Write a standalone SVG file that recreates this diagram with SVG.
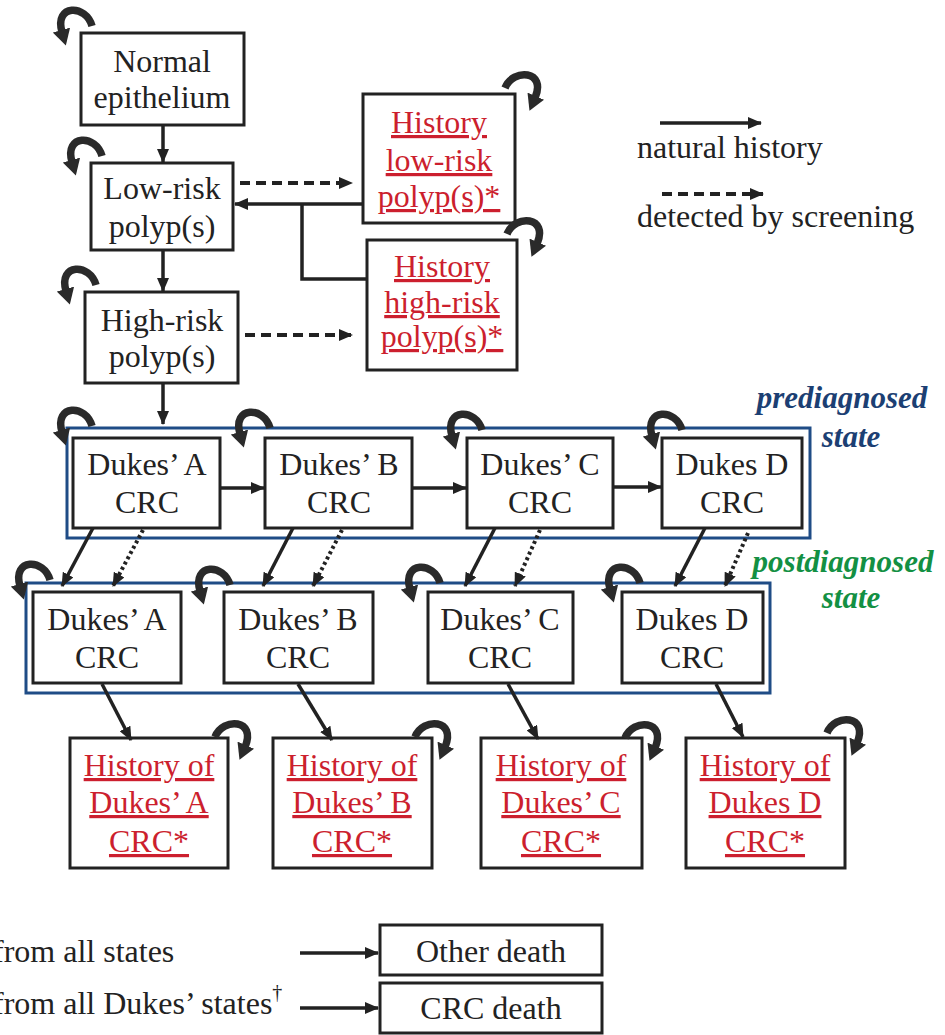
<svg xmlns="http://www.w3.org/2000/svg" width="945" height="1035" viewBox="0 0 945 1035">
<style>
  .box{fill:#fff;stroke:#222;stroke-width:3}
  .state{fill:none;stroke:#1f4c86;stroke-width:3}
  text{font-family:'Liberation Serif','Tinos','Times New Roman','DejaVu Serif',serif}
  .t{font-size:32px;fill:#222;text-anchor:middle}
  .r{fill:#cc1f2e;text-decoration:underline}
  .lg{font-size:32px;fill:#222}
  .lab{font-size:31px;font-weight:bold;font-style:italic;text-anchor:middle}
  .a{fill:none;stroke:#222;stroke-width:3.5;marker-end:url(#ah)}
  .dash{stroke-dasharray:10 6;stroke-width:4}
  .dot{stroke-dasharray:3 3;stroke-width:4}
  .ln{fill:none;stroke:#222;stroke-width:3.5}
  .loop{fill:none;stroke:#2a2a2a;stroke-width:7.5;marker-end:url(#lh)}
</style>
<defs>
  <marker id="ah" viewBox="0 0 14 12" refX="13" refY="6" markerWidth="14" markerHeight="12" markerUnits="userSpaceOnUse" orient="auto">
    <path d="M0,0 L14,6 L0,12 z" fill="#222"/>
  </marker>
  <marker id="lh" viewBox="0 0 16 18" refX="2" refY="9" markerWidth="16" markerHeight="18" markerUnits="userSpaceOnUse" orient="auto">
    <path d="M0,0 L16,9 L0,18 z" fill="#2a2a2a"/>
  </marker>
</defs>

<!-- state frames -->
<g id="prediagnosed-frame">
  <rect class="state" x="67" y="428" width="743" height="110"/>
  <text class="lab" x="842" y="408" fill="#1c3f73">prediagnosed</text>
  <text class="lab" x="851" y="447" fill="#1c3f73">state</text>
</g>
<g id="postdiagnosed-frame">
  <rect class="state" x="26" y="583" width="744" height="110"/>
  <text class="lab" x="843" y="572" fill="#139043">postdiagnosed</text>
  <text class="lab" x="851" y="608" fill="#139043">state</text>
</g>

<!-- nodes -->
<g id="normal">
  <rect class="box" x="81" y="33" width="163" height="92"/>
  <text class="t" x="162" y="72">Normal</text>
  <text class="t" x="162" y="108">epithelium</text>
</g>
<g id="lowrisk">
  <rect class="box" x="91" y="163" width="142" height="87"/>
  <text class="t" x="162" y="199">Low-risk</text>
  <text class="t" x="162" y="237">polyp(s)</text>
</g>
<g id="highrisk">
  <rect class="box" x="85" y="292" width="153" height="91"/>
  <text class="t" x="162" y="331">High-risk</text>
  <text class="t" x="162" y="367">polyp(s)</text>
</g>
<g id="hist-lowrisk">
  <rect class="box" x="363" y="94" width="152" height="129"/>
  <text class="t r" x="439" y="133">History</text>
  <text class="t r" x="439" y="171">low-risk</text>
  <text class="t r" x="439" y="207">polyp(s)*</text>
</g>
<g id="hist-highrisk">
  <rect class="box" x="367" y="240" width="150" height="130"/>
  <text class="t r" x="442" y="277">History</text>
  <text class="t r" x="442" y="313">high-risk</text>
  <text class="t r" x="442" y="347">polyp(s)*</text>
</g>

<g id="pre-a">
  <rect class="box" x="73" y="438" width="147" height="90"/>
  <text class="t" x="147" y="475">Dukes’ A</text>
  <text class="t" x="147" y="513">CRC</text>
</g>
<g id="pre-b">
  <rect class="box" x="265" y="438" width="147" height="90"/>
  <text class="t" x="339" y="475">Dukes’ B</text>
  <text class="t" x="339" y="513">CRC</text>
</g>
<g id="pre-c">
  <rect class="box" x="467" y="438" width="146" height="90"/>
  <text class="t" x="540" y="475">Dukes’ C</text>
  <text class="t" x="540" y="513">CRC</text>
</g>
<g id="pre-d">
  <rect class="box" x="662" y="438" width="140" height="90"/>
  <text class="t" x="732" y="475">Dukes D</text>
  <text class="t" x="732" y="513">CRC</text>
</g>

<g id="post-a">
  <rect class="box" x="33" y="592" width="148" height="91"/>
  <text class="t" x="107" y="630">Dukes’ A</text>
  <text class="t" x="107" y="668">CRC</text>
</g>
<g id="post-b">
  <rect class="box" x="224" y="592" width="149" height="91"/>
  <text class="t" x="298" y="630">Dukes’ B</text>
  <text class="t" x="298" y="668">CRC</text>
</g>
<g id="post-c">
  <rect class="box" x="428" y="592" width="145" height="91"/>
  <text class="t" x="500" y="630">Dukes’ C</text>
  <text class="t" x="500" y="668">CRC</text>
</g>
<g id="post-d">
  <rect class="box" x="622" y="592" width="141" height="91"/>
  <text class="t" x="692" y="630">Dukes D</text>
  <text class="t" x="692" y="668">CRC</text>
</g>

<g id="hist-a">
  <rect class="box" x="70" y="738" width="158" height="130"/>
  <text class="t r" x="149" y="776">History of</text>
  <text class="t r" x="149" y="813">Dukes’ A</text>
  <text class="t r" x="149" y="852">CRC*</text>
</g>
<g id="hist-b">
  <rect class="box" x="273" y="738" width="159" height="130"/>
  <text class="t r" x="352" y="776">History of</text>
  <text class="t r" x="352" y="813">Dukes’ B</text>
  <text class="t r" x="352" y="852">CRC*</text>
</g>
<g id="hist-c">
  <rect class="box" x="481" y="738" width="161" height="130"/>
  <text class="t r" x="561" y="776">History of</text>
  <text class="t r" x="561" y="813">Dukes’ C</text>
  <text class="t r" x="561" y="852">CRC*</text>
</g>
<g id="hist-d">
  <rect class="box" x="686" y="738" width="159" height="130"/>
  <text class="t r" x="765" y="776">History of</text>
  <text class="t r" x="765" y="813">Dukes D</text>
  <text class="t r" x="765" y="852">CRC*</text>
</g>

<g id="other-death">
  <rect class="box" x="380" y="925" width="222" height="50"/>
  <text class="t" x="491" y="962">Other death</text>
</g>
<g id="crc-death">
  <rect class="box" x="380" y="983" width="222" height="50"/>
  <text class="t" x="491" y="1019">CRC death</text>
</g>

<!-- legend -->
<g id="legend">
  <path class="a" d="M660,123 H761"/>
  <text class="lg" x="637" y="158">natural history</text>
  <path class="a dash" d="M662,194 H763"/>
  <text class="lg" x="637" y="227">detected by screening</text>
  <text class="lg" x="-7" y="962">from all states</text>
  <text class="lg" x="-7" y="1014">from all Dukes’ states<tspan font-size="20" dy="-15">†</tspan></text>
</g>

<!-- connectors -->
<g id="connectors">
  <path class="a" d="M163,125 V162"/>
  <path class="a" d="M163,250 V291"/>
  <path class="a" d="M163,383 V424"/>
  <path class="a dash" d="M240,183 H352"/>
  <path class="a dash" d="M245,335 H352"/>
  <path class="a" d="M363,204 H235"/>
  <path class="ln" d="M302,204 V279 H367"/>

  <path class="a" d="M220,488 H264"/>
  <path class="a" d="M412,488 H466"/>
  <path class="a" d="M613,487 H661"/>

  <path class="a" d="M93,528 L62,586"/>
  <path class="a dot" d="M143,530 L113,586"/>
  <path class="a" d="M293,528 L263,586"/>
  <path class="a dot" d="M342,530 L313,586"/>
  <path class="a" d="M495,528 L465,586"/>
  <path class="a dot" d="M540,530 L515,586"/>
  <path class="a" d="M705,528 L675,586"/>
  <path class="a dot" d="M748,533 L725,586"/>

  <path class="a" d="M102,684 L131,740"/>
  <path class="a" d="M298,684 L332,740"/>
  <path class="a" d="M508,684 L538,739"/>
  <path class="a" d="M716,684 L743,737"/>

  <path class="a" d="M300,953 H378"/>
  <path class="a" d="M300,1008 H378"/>

  <!-- self loops -->
  <path class="loop" d="M92,26 C86,4 54,4 62,32"/>
  <path class="loop" d="M102,156 C96,134 64,134 72,162"/>
  <path class="loop" d="M96,285 C90,263 58,263 66,291"/>
  <path class="loop" d="M92,426 C86,404 54,404 62,432"/>
  <path class="loop" d="M270,428 C264,406 232,406 240,434"/>
  <path class="loop" d="M482,430 C476,408 444,408 452,436"/>
  <path class="loop" d="M682,430 C676,408 644,408 652,436"/>
  <path class="loop" d="M50,580 C44,558 12,558 20,586"/>
  <path class="loop" d="M230,585 C224,563 192,563 200,591"/>
  <path class="loop" d="M440,583 C434,561 402,561 410,589"/>
  <path class="loop" d="M640,583 C634,561 602,561 610,589"/>
  <path class="loop" d="M505,88 C513,68 547,70 535,98"/>
  <path class="loop" d="M507,234 C515,214 549,216 537,244"/>
  <path class="loop" d="M215,737 C223,717 257,719 245,747"/>
  <path class="loop" d="M415,737 C423,717 457,719 445,747"/>
  <path class="loop" d="M625,738 C633,718 667,720 655,748"/>
  <path class="loop" d="M827,733 C835,713 869,715 857,743"/>
</g>
</svg>
